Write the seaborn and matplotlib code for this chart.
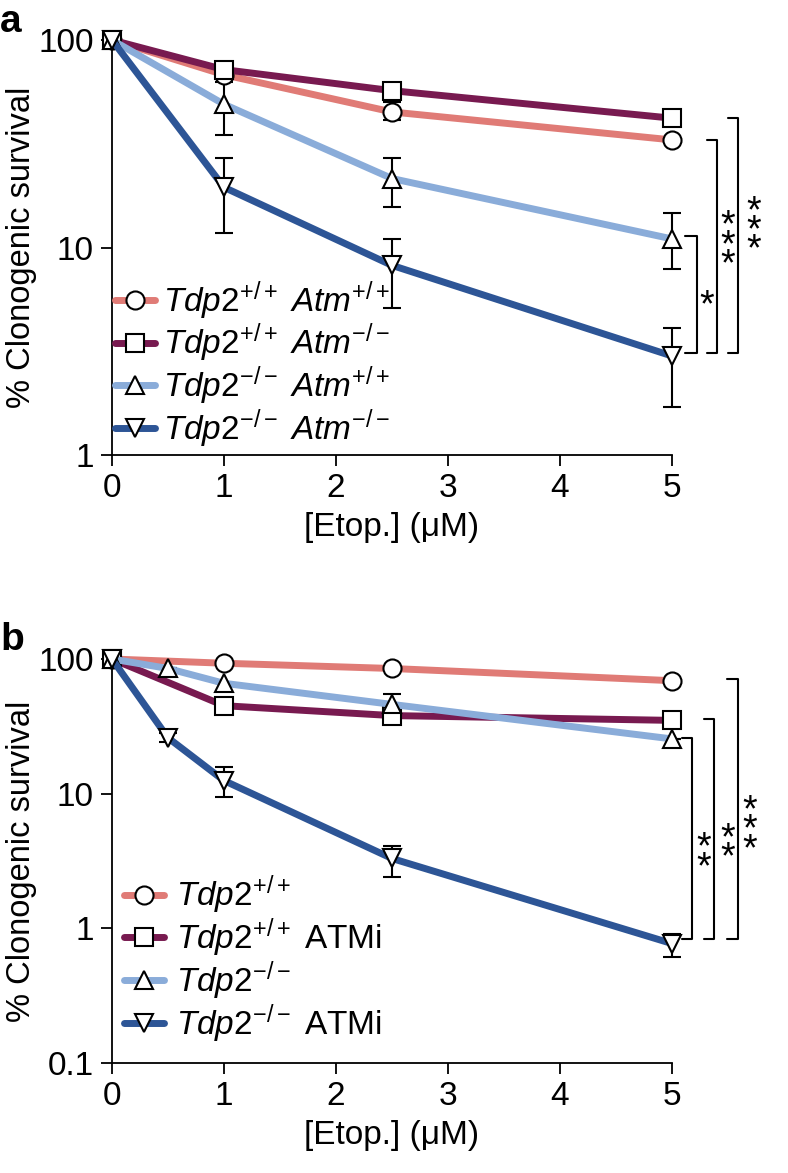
import numpy as np
import pandas as pd
import matplotlib
matplotlib.use("Agg")
import matplotlib.pyplot as plt
import matplotlib.transforms as mtransforms
import seaborn as sns

sns.set_style("ticks", rc={"text.color": "black", "axes.labelcolor": "black",
                           "xtick.color": "black", "ytick.color": "black",
                           "axes.edgecolor": "black"})
plt.rcParams['font.family'] = ['Liberation Sans', 'DejaVu Sans']
plt.rcParams['mathtext.fontset'] = 'custom'
plt.rcParams['mathtext.it'] = 'Liberation Sans:italic'
plt.rcParams['mathtext.rm'] = 'Liberation Sans'
plt.rcParams['mathtext.bf'] = 'Liberation Sans:bold'
plt.rcParams['mathtext.sf'] = 'Liberation Sans'

colors = ["#E07B76", "#781A50", "#8AACD9", "#2D5596"]
markers = ["o", "s", "^", "v"]

# ---- panel a data ----
a_labels = [r"$\mathit{Tdp2}^{+/+}\ \mathit{Atm}^{+/+}$",
            r"$\mathit{Tdp2}^{+/+}\ \mathit{Atm}^{-/-}$",
            r"$\mathit{Tdp2}^{-/-}\ \mathit{Atm}^{+/+}$",
            r"$\mathit{Tdp2}^{-/-}\ \mathit{Atm}^{-/-}$"]
a_x = [[0, 1, 2.5, 5]] * 4
a_y = [[100, 68, 45, 33],
       [100, 72, 57, 42],
       [100, 49, 21.5, 11],
       [100, 19.5, 8.2, 3.0]]
a_lo = [[100, 66, 41, 33],
        [100, 72, 57, 42],
        [100, 35, 15.6, 7.9],
        [100, 11.8, 5.1, 1.7]]
a_hi = [[100, 70, 50, 33],
        [100, 72, 57, 42],
        [100, 63, 27, 14.6],
        [100, 27, 11, 4.1]]

# ---- panel b data ----
b_labels = [r"$\mathit{Tdp2}^{+/+}$",
            r"$\mathit{Tdp2}^{+/+}$ ATMi",
            r"$\mathit{Tdp2}^{-/-}$",
            r"$\mathit{Tdp2}^{-/-}$ ATMi"]
b_x = [[0, 1, 2.5, 5],
       [0, 1, 2.5, 5],
       [0, 0.5, 1, 2.5, 5],
       [0, 0.5, 1, 2.5, 5]]
b_y = [[100, 93, 85, 69],
       [100, 45, 38, 35],
       [100, 85, 66, 46, 25.5],
       [100, 26, 12.5, 3.3, 0.77]]
b_lo = [[100, 93, 85, 69],
        [100, 45, 36, 35],
        [100, 85, 66, 39, 25.5],
        [100, 24, 9.4, 2.4, 0.61]]
b_hi = [[100, 93, 85, 69],
        [100, 45, 40, 35],
        [100, 85, 66, 55, 25.5],
        [100, 28, 15.9, 4.1, 0.9]]

# significance brackets: (x tick start, x vertical, y top, y bottom, stars, star x, star y)
a_sig = [(5.12, 5.22, 11.3, 3.1, "*", 5.31, 5.9),
         (5.31, 5.40, 33, 3.1, "***", 5.50, 11.5),
         (5.50, 5.59, 42, 3.1, "***", 5.73, 13.5)]
b_sig = [(5.09, 5.18, 25.9, 0.84, "**", 5.28, 4.0),
         (5.29, 5.375, 35.9, 0.84, "**", 5.50, 4.7),
         (5.49, 5.59, 71, 0.84, "***", 5.69, 6.4)]

fig = plt.figure(figsize=(7.88, 11.73), dpi=100)
ax_a = fig.add_axes([0.1421, 0.6121, 0.7107, 0.3538])
ax_b = fig.add_axes([0.1421, 0.0938, 0.7107, 0.3444])


def draw_panel(ax, xs, ys, los, his, labels, sig, yticks, ylabels):
    for x, y, lo, hi, lab, c, m in zip(xs, ys, los, his, labels, colors, markers):
        y = np.array(y, dtype=float)
        err = [y - np.array(lo), np.array(hi) - y]
        ax.errorbar(x, y, yerr=err, fmt="none", ecolor="black", elinewidth=1.5,
                    capsize=6.5, capthick=1.5, zorder=3, clip_on=False)
        df = pd.DataFrame({"x": x, "y": y})
        sns.lineplot(data=df, x="x", y="y", ax=ax, color=c, marker=m,
                     markersize=13, markerfacecolor="white",
                     markeredgecolor="black", markeredgewidth=1.5,
                     linewidth=5, label=lab, clip_on=False, zorder=4)
    ax.set_yscale("log")
    ax.set_xlim(0, 5)
    ax.set_ylim(yticks[-1], yticks[0])
    ax.set_yticks(yticks)
    ax.set_yticklabels(ylabels)
    ax.minorticks_off()
    ax.set_xticks([0, 1, 2, 3, 4, 5])
    ax.tick_params(direction="out", length=8, width=1.3, labelsize=24, pad=5)
    for s in ["left", "bottom"]:
        ax.spines[s].set_linewidth(1.3)
    sns.despine(ax=ax)
    ax.set_xlabel("[Etop.] (\u03bcM)", fontsize=24, labelpad=6)
    ax.set_ylabel("% Clonogenic survival", fontsize=23.5)
    ax.yaxis.set_label_coords(-0.134, 0.5)
    # stars stacked vertically; nudged down so the glyphs sit on the anchor
    star_tr = mtransforms.offset_copy(ax.transData, fig=fig, x=0, y=-11, units="dots")
    for x0, x1, yt, yb, stars, sx, sy in sig:
        ax.plot([x0, x1, x1, x0], [yt, yt, yb, yb], color="black", lw=1.5,
                clip_on=False)
        ax.text(sx, sy, "\n".join(stars), ha="center", va="center",
                linespacing=0.4, fontsize=27, clip_on=False, transform=star_tr)


draw_panel(ax_a, a_x, a_y, a_lo, a_hi, a_labels, a_sig, [100, 10, 1], ["100", "10", "1"])
draw_panel(ax_b, b_x, b_y, b_lo, b_hi, b_labels, b_sig, [100, 10, 1, 0.1], ["100", "10", "1", "0.1"])

ax_a.legend(loc="lower left", bbox_to_anchor=(0.005, 0.012), frameon=False,
            fontsize=24, handlelength=1.2, handletextpad=0.25, labelspacing=0.0,
            borderpad=0, borderaxespad=0)
ax_b.legend(loc="lower left", bbox_to_anchor=(0.022, 0.045), frameon=False,
            fontsize=24, handlelength=1.2, handletextpad=0.35, labelspacing=0.0,
            borderpad=0, borderaxespad=0)

fig.text(0.0, 0.997, "a", fontsize=28, fontweight="bold", va="top", ha="left")
fig.text(0.0, 0.470, "b", fontsize=28, fontweight="bold", va="top", ha="left")

fig.savefig("out.png", dpi=100)
